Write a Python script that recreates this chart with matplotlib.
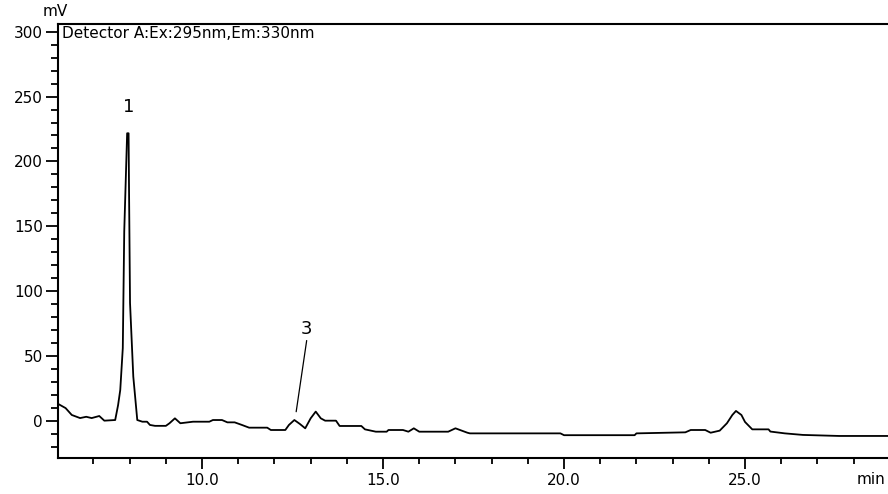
import matplotlib
matplotlib.use("Agg")
import matplotlib.pyplot as plt
from matplotlib.ticker import MultipleLocator, FormatStrFormatter

# retention time (min) and detector signal (mV)
t_min = [
    6.05, 6.23, 6.40, 6.63, 6.80, 6.95, 7.16, 7.30, 7.60, 7.68,
    7.74, 7.81, 7.85, 7.93, 7.97, 7.98, 8.01, 8.10, 8.21, 8.35,
    8.48, 8.56, 8.70, 9.00, 9.10, 9.25, 9.40, 9.75, 10.20, 10.30,
    10.55, 10.70, 10.90, 11.10, 11.30, 11.80, 11.90, 12.30, 12.40, 12.55,
    12.70, 12.85, 13.00, 13.14, 13.28, 13.40, 13.70, 13.80, 14.40, 14.50,
    14.80, 15.10, 15.15, 15.55, 15.70, 15.85, 16.00, 16.80, 17.00, 17.33,
    17.40, 19.90, 20.00, 21.95, 22.00, 23.35, 23.50, 23.90, 24.05, 24.30,
    24.50, 24.65, 24.75, 24.90, 25.00, 25.20, 25.65, 25.70, 26.10, 26.60,
    27.60, 28.95,
]
signal_mv = [
    12.5, 9.7, 4.4, 2.0, 3.0, 2.0, 3.6, 0.0, 0.5, 12.0,
    23.7, 56.0, 146.0, 221.7, 221.7, 185.7, 90.8, 34.0, 0.5, -0.8,
    -0.8, -3.3, -4.0, -4.0, -2.0, 1.8, -2.0, -0.8, -0.8, 0.5,
    0.5, -1.3, -1.3, -3.3, -5.4, -5.4, -7.2, -7.2, -3.3, 0.5,
    -2.5, -5.9, 1.8, 7.0, 1.8, 0.0, 0.0, -4.1, -4.1, -6.7,
    -8.5, -8.5, -7.2, -7.2, -8.5, -5.9, -8.5, -8.5, -5.9, -9.3,
    -9.8, -9.8, -11.2, -11.2, -9.8, -9.0, -7.2, -7.2, -9.3, -7.7,
    -2.0, 4.4, 7.5, 4.4, -1.0, -6.7, -6.7, -8.4, -9.8, -11.0,
    -11.8, -11.8,
]

# peak labels: text, label position, leader end (None = no leader)
peak_names = ["1", "3"]
peak_text_xy = [(7.96, 242.0), (12.89, 70.8)]
peak_leader_xy = [None, (12.6, 6.9)]

detector_title = "Detector A:Ex:295nm,Em:330nm"

plt.rcParams["font.family"] = "DejaVu Sans"
fig = plt.figure(figsize=(8.88, 4.94), dpi=100)
ax = fig.add_axes([58 / 888, 36 / 494, 830 / 888, 434 / 494])

ax.plot(t_min, signal_mv, color="black", lw=1.3)

for name, txy, lxy in zip(peak_names, peak_text_xy, peak_leader_xy):
    ax.text(txy[0], txy[1], name, ha="center", va="center", fontsize=13)
    if lxy is not None:
        ax.annotate("", xy=lxy, xytext=(txy[0], txy[1] - 9),
                    arrowprops=dict(arrowstyle="-", color="black", lw=0.9,
                                    shrinkA=0, shrinkB=0))

ax.set_xlim(6.02, 28.95)
ax.set_ylim(-28.8, 306)

ax.xaxis.set_major_locator(MultipleLocator(5))
ax.xaxis.set_minor_locator(MultipleLocator(1))
ax.xaxis.set_major_formatter(FormatStrFormatter("%.1f"))
ax.yaxis.set_major_locator(MultipleLocator(50))
ax.yaxis.set_minor_locator(MultipleLocator(10))

ax.tick_params(axis="both", which="both", direction="out", width=1.3,
               labelsize=11)
ax.tick_params(axis="x", which="major", length=8, pad=3)
ax.tick_params(axis="x", which="minor", length=4)
ax.tick_params(axis="y", which="major", length=9, pad=2)
ax.tick_params(axis="y", which="minor", length=5)

ax.spines["right"].set_visible(False)
for side in ["left", "bottom", "top"]:
    ax.spines[side].set_linewidth(1.5)

ax.text(0.005, 0.995, detector_title, transform=ax.transAxes,
        ha="left", va="top", fontsize=11)

fig.text(55 / 888, 1 - 11 / 494, "mV", ha="center", va="center", fontsize=11)
fig.text(871 / 888, 1 - 479 / 494, "min", ha="center", va="center", fontsize=11)

fig.savefig("out.png", dpi=100)
